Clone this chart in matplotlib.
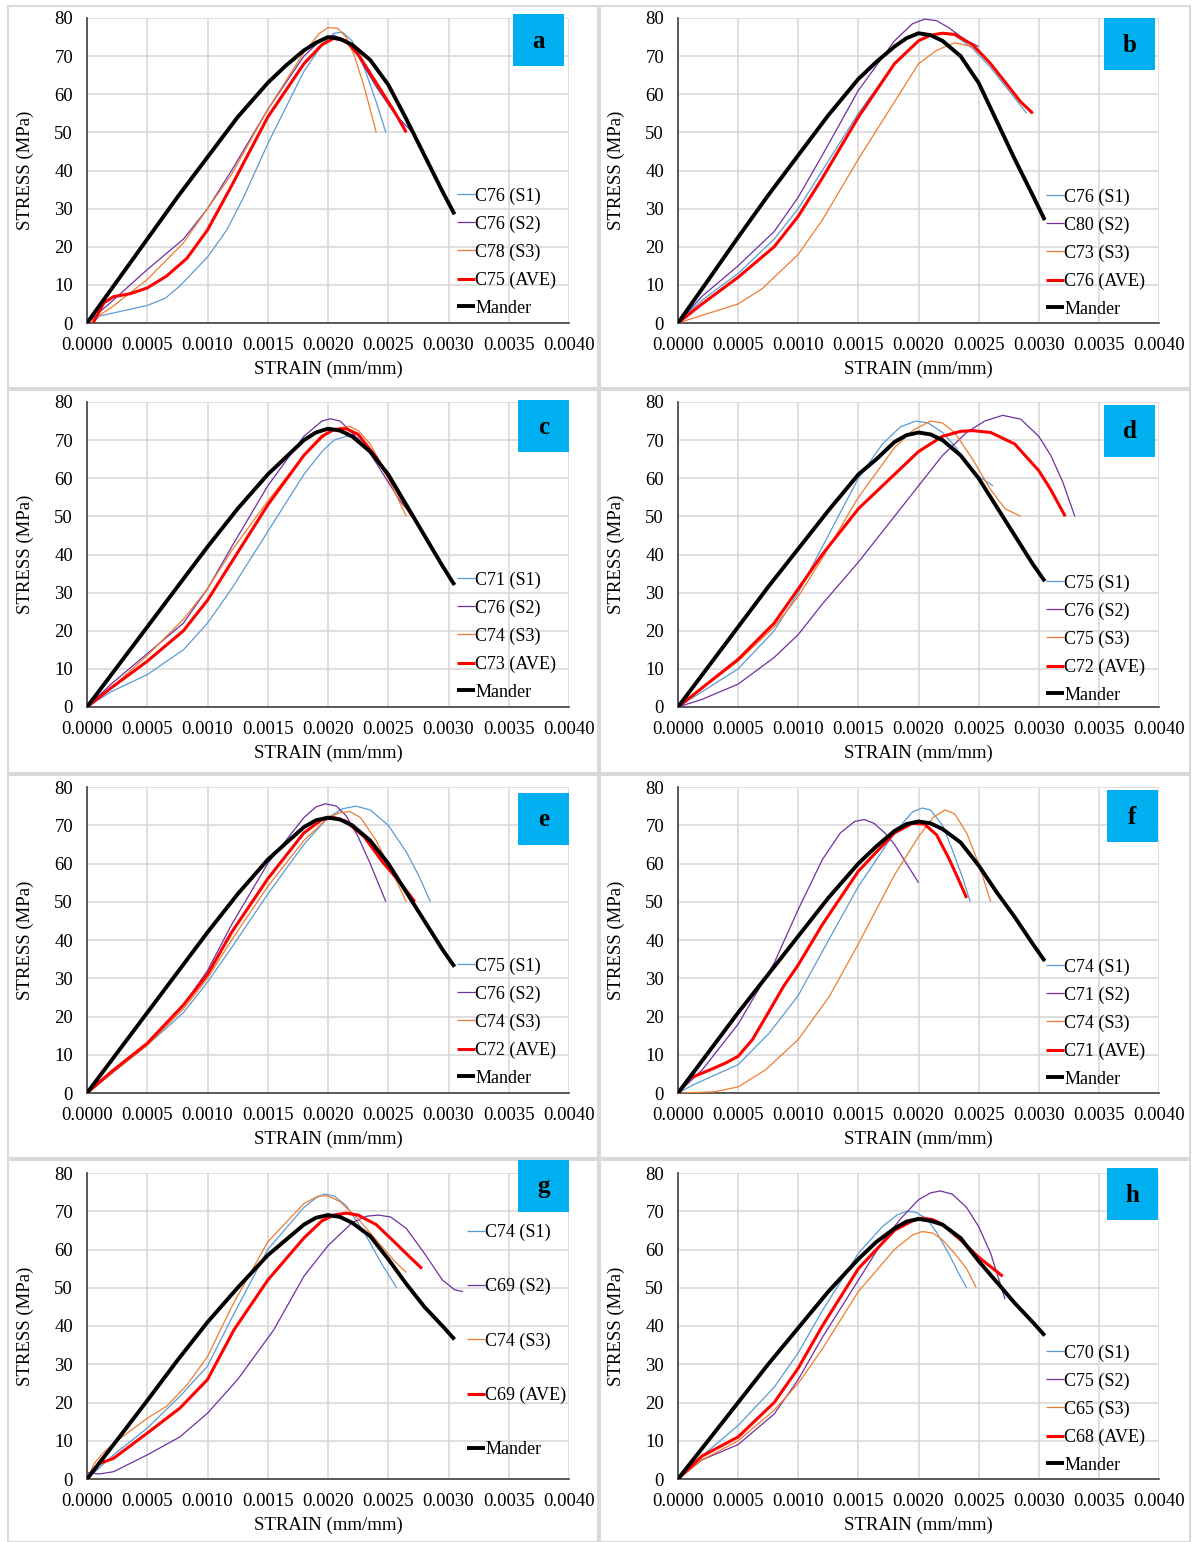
import matplotlib
matplotlib.use('Agg')
import matplotlib.pyplot as plt
from matplotlib.patches import Rectangle
from matplotlib.ticker import FormatStrFormatter, MultipleLocator

plt.rcParams['font.family'] = ['Liberation Serif', 'DejaVu Serif']

# strain values are in 1e-3 mm/mm, stress in MPa
man_x = [0, 0.25, 0.5, 0.75, 1.0, 1.25, 1.5, 1.65, 1.8, 1.9, 2.0, 2.1, 2.2, 2.35, 2.5, 2.65, 2.8, 2.95, 3.05]

# ---- panel a
a_s1 = ([0.05, 0.1, 0.3, 0.5, 0.65, 0.77, 1.0, 1.16, 1.3, 1.5, 1.8, 1.95, 2.05, 2.12, 2.2, 2.3, 2.4, 2.48],
        [0, 1.8, 3.2, 4.6, 6.5, 9.7, 17.3, 24.4, 33, 47, 66, 73, 76, 76.3, 74, 67, 58, 50])
a_s2 = ([0, 0.2, 0.5, 0.8, 1.0, 1.2, 1.5, 1.8, 1.95, 2.05, 2.15, 2.25, 2.4, 2.55, 2.7],
        [0, 5.5, 14, 22, 30, 40, 56, 70, 74.5, 75.5, 74, 70, 62, 55, 50])
a_s3 = ([0, 0.2, 0.5, 0.8, 1.0, 1.2, 1.5, 1.8, 1.93, 2.0, 2.08, 2.15, 2.22, 2.3, 2.4],
        [0, 4, 11.4, 21, 30, 39, 56, 71, 76, 77.5, 77.3, 75, 70, 62, 50])
a_ave = ([0.05, 0.14, 0.22, 0.36, 0.5, 0.66, 0.83, 1.0, 1.2, 1.5, 1.8, 1.95, 2.05, 2.15, 2.25, 2.4, 2.55, 2.65],
         [0, 5.3, 6.9, 7.7, 9.2, 12.3, 17, 24.4, 36, 54, 68, 73, 74.7, 74, 70.5, 63, 55.5, 50])
a_man = [0, 11, 22, 33, 43.5, 54, 63, 67.5, 71.5, 73.5, 75, 74.5, 73, 69, 62.5, 53.5, 44, 34.5, 28.5]
a_labels = ['C76 (S1)', 'C76 (S2)', 'C78 (S3)', 'C75 (AVE)', 'Mander']

# ---- panel b
b_s1 = ([0, 0.2, 0.5, 0.8, 1.0, 1.2, 1.5, 1.8, 2.0, 2.1, 2.2, 2.3, 2.45, 2.6, 2.75, 2.9],
        [0, 6, 13, 22, 30, 40, 55, 68, 74, 75.5, 76, 75.5, 72, 67, 61, 55])
b_s2 = ([0, 0.2, 0.5, 0.8, 1.0, 1.2, 1.5, 1.8, 1.95, 2.05, 2.15, 2.25, 2.4, 2.5],
        [0, 7, 15, 24, 33, 44, 61, 74, 78.5, 79.7, 79.3, 77.5, 74, 72.5])
b_s3 = ([0, 0.2, 0.5, 0.7, 1.0, 1.2, 1.5, 1.8, 2.0, 2.15, 2.3, 2.45, 2.6, 2.75, 2.85, 2.95],
        [0, 2, 5, 9, 18, 27, 43, 58, 68, 71.5, 73.5, 72.5, 68, 62, 58, 55])
b_ave = ([0, 0.2, 0.5, 0.8, 1.0, 1.2, 1.5, 1.8, 2.0, 2.1, 2.2, 2.3, 2.45, 2.6, 2.75, 2.85, 2.95],
         [0, 5, 12, 20, 28, 38, 54, 68, 74, 75.5, 76, 75.7, 73, 68, 62, 58, 55])
b_man = [0, 11.2, 22.5, 33.5, 44, 54.5, 64, 68.5, 72.5, 74.7, 76, 75.5, 74, 70, 63, 53, 43, 33.5, 27]
b_labels = ['C76 (S1)', 'C80 (S2)', 'C73 (S3)', 'C76 (AVE)', 'Mander']

# ---- panel c
c_s1 = ([0, 0.2, 0.5, 0.8, 1.0, 1.2, 1.5, 1.8, 1.95, 2.05, 2.15, 2.25, 2.4, 2.55, 2.7],
        [0, 4, 8.5, 15, 22, 31, 46, 61, 67, 70, 71, 70.5, 65.5, 58.5, 50])
c_s2 = ([0, 0.2, 0.5, 0.8, 1.0, 1.2, 1.5, 1.8, 1.95, 2.02, 2.1, 2.2, 2.35, 2.5, 2.6, 2.7],
        [0, 6, 14, 22, 31, 42, 58, 71, 75, 75.6, 75, 72, 66.5, 59, 54, 50])
c_s3 = ([0, 0.2, 0.5, 0.8, 1.0, 1.2, 1.5, 1.8, 2.0, 2.1, 2.18, 2.25, 2.35, 2.5, 2.65],
        [0, 5, 13.5, 23, 31, 41, 54, 66, 72, 73.3, 73.6, 72.5, 69, 60, 50])
c_ave = ([0, 0.2, 0.5, 0.8, 1.0, 1.2, 1.5, 1.8, 1.95, 2.05, 2.15, 2.25, 2.4, 2.55, 2.7],
         [0, 5, 12, 20, 28, 38, 53, 66, 71, 72.8, 73, 71.5, 65.5, 58, 50])
c_man = [0, 10.5, 21, 31.5, 42, 52, 61, 65.5, 70, 72, 73, 72.5, 71, 67, 61, 53, 45, 37, 32]
c_labels = ['C71 (S1)', 'C76 (S2)', 'C74 (S3)', 'C73 (AVE)', 'Mander']

# ---- panel d
d_s1 = ([0, 0.2, 0.5, 0.8, 1.0, 1.2, 1.5, 1.7, 1.85, 1.98, 2.08, 2.2, 2.3, 2.4, 2.5, 2.62],
        [0, 4, 10, 20, 30, 42, 60, 69, 73.5, 75, 74.5, 72, 68.5, 64, 60.5, 58])
d_s2 = ([0, 0.2, 0.5, 0.8, 1.0, 1.2, 1.5, 1.8, 2.0, 2.2, 2.4, 2.55, 2.7, 2.85, 3.0, 3.1, 3.2, 3.3],
        [0, 2, 6, 13, 19, 27, 38, 50, 58, 66, 72, 75, 76.5, 75.5, 71, 66, 59, 50])
d_s3 = ([0, 0.2, 0.5, 0.8, 1.0, 1.2, 1.5, 1.8, 1.95, 2.1, 2.2, 2.3, 2.45, 2.6, 2.72, 2.85],
        [0, 5, 12, 21, 29, 39, 55, 68, 72.5, 75, 74.5, 72, 65, 57, 52, 50])
d_ave = ([0, 0.2, 0.5, 0.8, 1.0, 1.2, 1.5, 1.8, 2.0, 2.2, 2.35, 2.45, 2.6, 2.8, 3.0, 3.1, 3.22],
         [0, 5, 12.5, 22, 31, 40, 52, 61, 67, 71, 72.3, 72.5, 72, 69, 62, 57, 50])
d_man = [0, 10.5, 21, 31.5, 41.5, 51.5, 61, 65, 69.5, 71.3, 72, 71.5, 70, 66, 60, 52.5, 45, 37.5, 33]
d_labels = ['C75 (S1)', 'C76 (S2)', 'C75 (S3)', 'C72 (AVE)', 'Mander']

# ---- panel e
e_s1 = ([0, 0.2, 0.5, 0.8, 1.0, 1.2, 1.5, 1.8, 2.0, 2.12, 2.23, 2.35, 2.5, 2.65, 2.75, 2.85],
        [0, 5, 12.5, 21, 29, 38, 52, 65, 72, 74.3, 75, 74, 70, 63, 57, 50])
e_s2 = ([0, 0.2, 0.5, 0.8, 1.0, 1.2, 1.5, 1.8, 1.9, 1.98, 2.07, 2.15, 2.25, 2.35, 2.48],
        [0, 5, 13, 23, 32, 44, 60, 72, 74.8, 75.6, 75, 72.5, 67, 60, 50])
e_s3 = ([0, 0.2, 0.5, 0.8, 1.0, 1.2, 1.5, 1.8, 2.0, 2.1, 2.18, 2.27, 2.4, 2.52, 2.65],
        [0, 5, 12.5, 22, 30, 40, 54, 66, 72, 73.3, 73.6, 72, 66, 58.5, 50])
e_ave = ([0, 0.2, 0.5, 0.8, 1.0, 1.2, 1.5, 1.8, 1.95, 2.05, 2.15, 2.3, 2.45, 2.6, 2.72],
         [0, 5.5, 13, 23, 31, 42, 56, 68, 71.5, 72, 71, 67, 60.5, 55, 50])
e_man = [0, 10.5, 21, 31.5, 42, 52, 61, 65.3, 69.5, 71.3, 72, 71.5, 70, 66, 60, 52.5, 45, 37.5, 33]
e_labels = ['C75 (S1)', 'C76 (S2)', 'C74 (S3)', 'C72 (AVE)', 'Mander']

# ---- panel f
f_s1 = ([0, 0.13, 0.5, 0.76, 1.0, 1.2, 1.5, 1.8, 1.95, 2.03, 2.1, 2.2, 2.3, 2.37, 2.43],
        [0, 2.2, 7.4, 15.7, 25.5, 37, 54, 68, 73.5, 74.5, 74, 70, 62, 56, 50])
f_s2 = ([0, 0.2, 0.5, 0.8, 0.9, 1.0, 1.2, 1.35, 1.47, 1.55, 1.63, 1.72, 1.8, 1.9, 2.0],
        [0, 6, 18, 34, 41, 48, 61, 68, 71, 71.5, 70.5, 68, 65, 60, 55])
f_s3 = ([0, 0.3, 0.5, 0.73, 1.0, 1.26, 1.5, 1.8, 2.0, 2.12, 2.22, 2.3, 2.4, 2.5, 2.6],
        [0, 0.3, 1.6, 6.1, 14, 25.3, 39, 57, 67, 72, 74, 73, 68, 60, 50])
f_ave = ([0, 0.1, 0.27, 0.4, 0.5, 0.62, 0.76, 0.88, 1.0, 1.2, 1.5, 1.8, 1.95, 2.05, 2.15, 2.25, 2.33, 2.4],
         [0, 3.9, 6.1, 7.9, 9.6, 14, 21.5, 28, 33.5, 44, 58, 68, 70.5, 70.3, 67.5, 61.5, 56, 51])
f_man = [0, 10.5, 21, 31, 41, 51, 60, 64.5, 68.5, 70.3, 71, 70.5, 69, 65.5, 59.5, 52.5, 46, 39, 34.5]
f_labels = ['C74 (S1)', 'C71 (S2)', 'C74 (S3)', 'C71 (AVE)', 'Mander']

# ---- panel g
g_s1 = ([0, 0.22, 0.5, 0.77, 1.0, 1.2, 1.5, 1.8, 1.9, 1.97, 2.05, 2.15, 2.3, 2.45, 2.57],
        [0, 6.3, 13.3, 21.6, 29.5, 42, 60, 71, 73.5, 74.5, 74, 71.5, 64.5, 56, 50])
g_s2 = ([0, 0.1, 0.22, 0.5, 0.77, 1.0, 1.25, 1.55, 1.8, 2.0, 2.2, 2.32, 2.42, 2.52, 2.65, 2.8, 2.95, 3.05, 3.12],
        [1.7, 1.3, 1.9, 6.3, 11, 17.2, 26, 39, 53, 61, 67, 68.7, 69, 68.5, 65.5, 59, 52, 49.5, 49])
g_s3 = ([0, 0.06, 0.13, 0.22, 0.5, 0.66, 0.83, 1.0, 1.2, 1.5, 1.8, 1.92, 2.0, 2.1, 2.25, 2.4, 2.55, 2.65],
        [0, 4, 6.7, 9.3, 15.9, 19, 24.6, 32, 45, 62, 72, 74, 74, 72.5, 68, 62.5, 57, 54])
g_ave = ([0, 0.1, 0.22, 0.5, 0.77, 1.0, 1.22, 1.5, 1.8, 1.95, 2.05, 2.15, 2.25, 2.4, 2.55, 2.68, 2.78],
         [0, 4, 5.4, 12, 18.5, 26, 39, 52, 63, 67.5, 69, 69.5, 69, 66.5, 62, 58, 55])
g_man = [0, 10.2, 20.5, 31, 41, 50, 58.5, 62.5, 66.5, 68.3, 69, 68.5, 67, 63.5, 57.5, 51, 45, 40, 36.5]
g_labels = ['C74 (S1)', 'C69 (S2)', 'C74 (S3)', 'C69 (AVE)', 'Mander']

# ---- panel h
h_s1 = ([0, 0.2, 0.5, 0.8, 1.0, 1.2, 1.5, 1.7, 1.82, 1.9, 1.98, 2.07, 2.15, 2.25, 2.33, 2.4],
        [0, 6, 14, 24, 33, 44, 59, 66, 69, 70, 69.7, 68, 64.5, 59, 54, 50])
h_s2 = ([0, 0.2, 0.5, 0.8, 1.0, 1.2, 1.5, 1.7, 1.85, 2.0, 2.1, 2.18, 2.28, 2.4, 2.5, 2.6, 2.7, 2.72],
        [0, 5, 9, 17, 26, 37, 52, 62, 68, 73, 74.8, 75.3, 74.5, 71, 66, 59, 49, 47])
h_s3 = ([0, 0.2, 0.5, 0.8, 1.0, 1.2, 1.5, 1.8, 1.95, 2.03, 2.12, 2.2, 2.3, 2.4, 2.48],
        [0, 5, 10, 18, 25, 34, 49, 60, 63.8, 64.7, 64.3, 62.5, 59, 55, 50])
h_ave = ([0, 0.2, 0.5, 0.8, 1.0, 1.2, 1.5, 1.8, 1.95, 2.03, 2.12, 2.2, 2.35, 2.5, 2.6, 2.7],
         [0, 6, 11, 20, 29, 40, 55, 65, 67.5, 68.2, 67.8, 66.5, 62.5, 58, 55.5, 53])
h_man = [0, 10, 20, 30, 39.5, 49, 57.5, 62, 65.5, 67.3, 68, 67.5, 66.5, 63, 57, 51.5, 46, 41, 37.5]
h_labels = ['C70 (S1)', 'C75 (S2)', 'C65 (S3)', 'C68 (AVE)', 'Mander']

letters = ['a', 'b', 'c', 'd', 'e', 'f', 'g', 'h']
series = [
    [a_s1, a_s2, a_s3, a_ave, (man_x, a_man)],
    [b_s1, b_s2, b_s3, b_ave, (man_x, b_man)],
    [c_s1, c_s2, c_s3, c_ave, (man_x, c_man)],
    [d_s1, d_s2, d_s3, d_ave, (man_x, d_man)],
    [e_s1, e_s2, e_s3, e_ave, (man_x, e_man)],
    [f_s1, f_s2, f_s3, f_ave, (man_x, f_man)],
    [g_s1, g_s2, g_s3, g_ave, (man_x, g_man)],
    [h_s1, h_s2, h_s3, h_ave, (man_x, h_man)],
]
labels = [a_labels, b_labels, c_labels, d_labels, e_labels, f_labels, g_labels, h_labels]

colors = ['#5B9BD5', '#7030A0', '#ED7D31', '#FF0000', '#000000']
widths = [0.9, 0.9, 0.9, 2.2, 2.8]

W, H = 1193, 1542
fig = plt.figure(figsize=(W / 100, H / 100), dpi=100)

def fx(px):
    return px / W

def fy(py):
    return 1 - py / H

# layout in pixels
col_left = [87, 678]
col_right = [569, 1159]
row_top = [18, 402, 787, 1173]
row_bot = [323, 707, 1093, 1479]
box_x = [[8, 598], [600, 1190]]
box_y = [[6, 388], [390, 773], [775, 1158], [1160, 1542]]
tag_pos = [(513, 14), (1104, 18), (518, 400), (1104, 405),
           (518, 793), (1107, 790), (518, 1160), (1107, 1168)]
leg_pos = [(457, 252), (1046, 253), (457, 636), (1046, 639),
           (457, 1022), (1046, 1023), (467, 1341), (1046, 1409)]
leg_space = [0.6, 0.6, 0.6, 0.6, 0.6, 0.6, 2.05, 0.6]

# panel frames
for r in range(4):
    for c in range(2):
        x0, x1 = box_x[c]
        y0, y1 = box_y[r]
        fig.patches.append(Rectangle((fx(x0), fy(y1)), fx(x1 - x0), (y1 - y0) / H,
                                     transform=fig.transFigure, fill=False,
                                     edgecolor='#D9D9D9', lw=1.5))

for i in range(8):
    r, c = i // 2, i % 2
    ax = fig.add_axes([fx(col_left[c]), fy(row_bot[r]),
                       fx(col_right[c] - col_left[c]), (row_bot[r] - row_top[r]) / H])
    for k, (xs, ys) in enumerate(series[i]):
        ax.plot([v / 1000 for v in xs], ys, color=colors[k], lw=widths[k],
                label=labels[i][k], solid_capstyle='butt', solid_joinstyle='round',
                zorder=3 + k)
    ax.set_xlim(0, 0.004)
    ax.set_ylim(0, 80)
    ax.xaxis.set_major_locator(MultipleLocator(0.0005))
    ax.yaxis.set_major_locator(MultipleLocator(10))
    ax.xaxis.set_major_formatter(FormatStrFormatter('%.4f'))
    ax.grid(True, color='#D9D9D9', lw=1.2)
    ax.set_axisbelow(True)
    for s in ['top', 'right']:
        ax.spines[s].set_visible(False)
    ax.spines['left'].set_color('#404040')
    ax.spines['bottom'].set_color('#404040')
    ax.spines['left'].set_linewidth(1.2)
    ax.spines['bottom'].set_linewidth(1.2)
    ax.tick_params(length=0, labelsize=13.5, colors='#000000')
    ax.tick_params(axis='x', pad=10)
    ax.tick_params(axis='y', pad=10)
    ax.set_xlabel('STRAIN (mm/mm)', fontsize=13.5, labelpad=5)
    ax.set_ylabel('STRESS (MPa)', fontsize=13.5, labelpad=15)
    ax.legend(loc='center left', bbox_to_anchor=(fx(leg_pos[i][0]), fy(leg_pos[i][1])),
              bbox_transform=fig.transFigure, frameon=False, fontsize=13,
              handlelength=1.0, handletextpad=0.0, labelspacing=leg_space[i],
              borderaxespad=0, borderpad=0)
    tx, ty = tag_pos[i]
    fig.patches.append(Rectangle((fx(tx), fy(ty + 52)), fx(51), 52 / H,
                                 transform=fig.transFigure, facecolor='#00B0F0',
                                 edgecolor='none', zorder=10))
    fig.text(fx(tx + 25.5), fy(ty + 27), letters[i], fontsize=18, fontweight='bold',
             ha='center', va='center', zorder=11)

fig.savefig('out.png', dpi=100)
